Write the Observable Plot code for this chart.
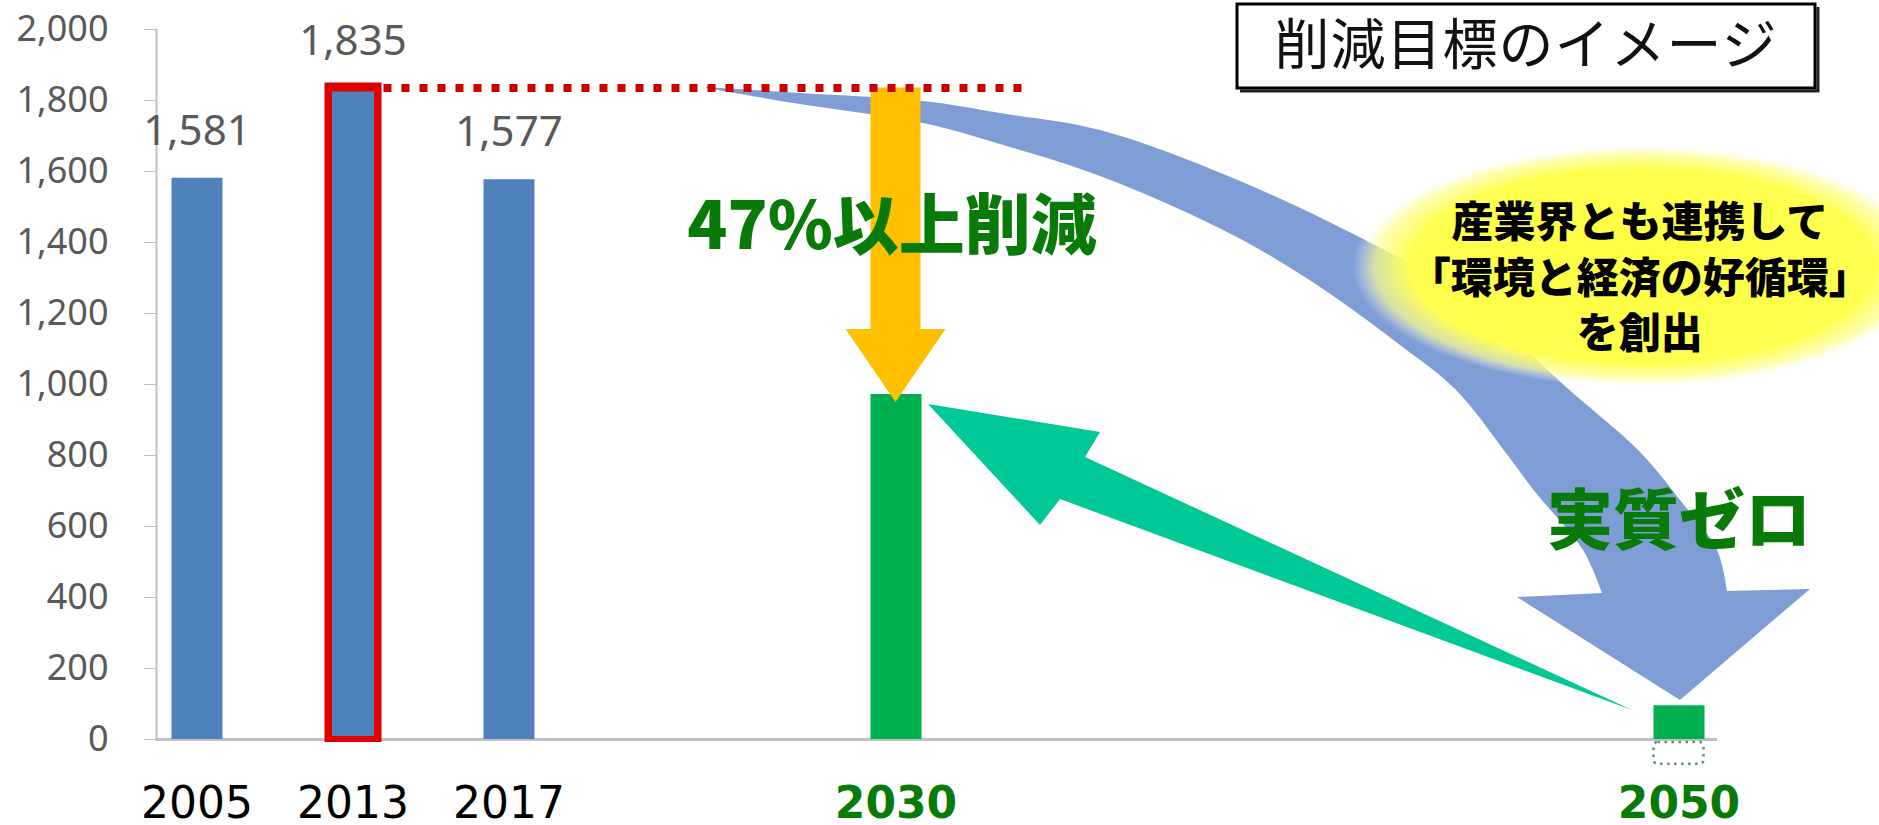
<!DOCTYPE html>
<html>
<head>
<meta charset="utf-8">
<script src="https://cdn.jsdelivr.net/npm/d3@7"></script>
<script src="https://cdn.jsdelivr.net/npm/@observablehq/plot@0.6"></script>
<style>
  html, body { margin: 0; padding: 0; background: #fff; }
  #chart svg { display: block; }
</style>
</head>
<body>
<div id="chart"></div>
<script>
// ---- data ----
const years = [2005, 2013, 2017, 2030, 2050];
const yearLabels = ["2005", "2013", "2017", "2030", "2050"];
const emissions = [1581, 1835, 1577, 972, 95];
const offset2050 = -70;
const baseYear = 2013;
const yTicks = [0, 200, 400, 600, 800, 1000, 1200, 1400, 1600, 1800, 2000];
const titleText = "削減目標のイメージ";
const reductionText = "47%以上削減";
const netZeroText = "実質ゼロ";
const bubbleLines = ["産業界とも連携して", "「環境と経済の好循環」", "を創出"];

const rows = years.map((y, i) => ({year: y, label: yearLabels[i], value: emissions[i]}));
const past = rows.slice(0, 3);
const pastPlain = past.filter(d => d.year !== baseYear);
const pastBase = past.filter(d => d.year === baseYear);
const targets = rows.slice(3);
const baseValue = pastBase[0].value;

const GREEN_TEXT = "#087a08";
const CJK = "'Noto Sans CJK JP', 'Noto Sans', sans-serif";

// background annotation: big blue curved arrow + yellow glow
function backShapes(index, scales) {
  const g = d3.create("svg:g");
  const outer = [[706,87],[800,93],[923,101],[1000,113],[1100,130],[1233,178],[1367,241],[1470,300],[1566,387],[1640,452],[1680,500],[1717,550],[1727,591]];
  const inner = [[1602,593],[1583,550],[1536,493],[1506,453],[1456,390],[1400,345],[1320,287],[1233,235],[1100,176],[1000,144],[923,123],[800,104],[706,88]];
  const line = d3.line().curve(d3.curveCatmullRom.alpha(0.5));
  const d = line(outer) + "L1810,589L1680,700L1517,597L1602,593" + line(inner).replace(/^M/, "L") + "Z";
  g.append("path").attr("d", d).attr("fill", "#7f9dd5");

  const defs = g.append("defs");
  const rg = defs.append("radialGradient").attr("id", "glow");
  rg.append("stop").attr("offset", "0%").attr("stop-color", "#ffff40").attr("stop-opacity", 1);
  rg.append("stop").attr("offset", "80%").attr("stop-color", "#ffff50").attr("stop-opacity", 1);
  rg.append("stop").attr("offset", "92%").attr("stop-color", "#ffff90").attr("stop-opacity", 0.7);
  rg.append("stop").attr("offset", "100%").attr("stop-color", "#ffffff").attr("stop-opacity", 0);
  g.append("ellipse").attr("cx", 1642).attr("cy", 266).attr("rx", 290).attr("ry", 122).attr("fill", "url(#glow)");
  return g.node();
}

// foreground annotation: yellow arrow, green arrow, dotted box, title box
function frontShapes(index, scales) {
  const {x, y} = scales;
  const g = d3.create("svg:g");
  // yellow reduction arrow at 2030
  const cx = x(2030), top = y(baseValue), tip = y(emissions[3]) + 8, headY = tip - 73;
  g.append("path")
    .attr("d", `M${cx-25},${top}L${cx+25},${top}L${cx+25},${headY}L${cx+50},${headY}L${cx},${tip}L${cx-50},${headY}L${cx-25},${headY}Z`)
    .attr("fill", "#ffc000");
  // green return arrow from 2050 to 2030
  g.append("path")
    .attr("d", "M928,404L1100,432L1085,457L1632,710L1060,499L1040,525Z")
    .attr("fill", "#00c896");
  // dotted box below 2050 bar
  const bx = x(2050);
  g.append("rect")
    .attr("x", bx - 25).attr("y", y(0) + 3)
    .attr("width", 50).attr("height", y(offset2050) - y(0) - 3)
    .attr("rx", 4)
    .attr("fill", "none").attr("stroke", "#5c8f78").attr("stroke-width", 2.5)
    .attr("stroke-dasharray", "2.5,4.5");
  // title box
  g.append("path").attr("d", "M1240,91L1818,91L1818,7").attr("fill", "none").attr("stroke", "#222").attr("stroke-width", 3);
  g.append("rect").attr("x", 1237).attr("y", 4).attr("width", 578).attr("height", 84)
    .attr("fill", "#fff").attr("stroke", "#000").attr("stroke-width", 3);
  g.append("text").attr("x", 1526).attr("y", 40)
    .attr("text-anchor", "middle").attr("dominant-baseline", "central")
    .attr("font-family", CJK).attr("font-size", 55).attr("fill", "#111")
    .attr("letter-spacing", 1)
    .text(titleText);
  return g.node();
}

const chart = Plot.plot({
  width: 1879,
  height: 825,
  marginTop: 29,
  marginBottom: 86,
  marginLeft: 156,
  marginRight: 162,
  x: {type: "linear", domain: years, range: [196.5, 352.5, 508.5, 895.5, 1678.5], axis: null},
  y: {domain: [0, 2000], label: null},
  style: {fontFamily: "'Noto Sans', sans-serif", background: "#fff", overflow: "visible"},
  marks: [
    Plot.frame({anchor: "left", stroke: "#c0c0c0", strokeWidth: 2}),
    Plot.axisY({ticks: yTicks, tickSize: 12, tickPadding: 36, tickFormat: d3.format(","),
      label: null, fontSize: 36, stroke: "#c0c0c0", fill: "#595959"}),
    Plot.ruleY([0], {stroke: "#c0c0c0", strokeWidth: 3}),
    backShapes,
    // bars
    Plot.ruleX(pastPlain, {x: "year", y1: "value", y2: 0, stroke: "#4f81bd", strokeWidth: 51}),
    Plot.ruleX(pastBase, {x: "year", y1: "value", y2: 0, stroke: "#e00000", strokeWidth: 57, insetTop: -5, insetBottom: -3}),
    Plot.ruleX(pastBase, {x: "year", y1: "value", y2: 0, stroke: "#4f81bd", strokeWidth: 42, insetTop: 4, insetBottom: 3}),
    Plot.ruleX(targets, {x: "year", y1: "value", y2: 0, stroke: "#00b050", strokeWidth: 51}),
    frontShapes,
    // dotted reference line at the 2013 level
    Plot.ruleY([baseValue], {x1: baseYear, x2: 2033.3, stroke: "#cc0000", strokeWidth: 8,
      strokeDasharray: "8,10", insetLeft: 31}),
    // value labels
    Plot.text(past, {x: "year", y: "value", text: d => d3.format(",")(d.value), dy: -47,
      fontSize: 42, fill: "#595959"}),
    // year labels
    Plot.text(past, {x: "year", text: "label", frameAnchor: "bottom", dy: 78,
      fontSize: 44, fill: "#000", fontFamily: "'DejaVu Sans', sans-serif"}),
    Plot.text(targets, {x: "year", text: "label", frameAnchor: "bottom", dy: 78,
      fontSize: 44, fontWeight: "bold", fill: GREEN_TEXT, fontFamily: "'DejaVu Sans', sans-serif"}),
    // annotation texts
    Plot.text([reductionText], {x: 2030, y: 1440, text: d => d, dx: -4, fontSize: 66,
      fontWeight: 900, fill: GREEN_TEXT, fontFamily: CJK}),
    Plot.text([netZeroText], {x: 2050, y: 611, text: d => d, fontSize: 66,
      fontWeight: 900, fill: GREEN_TEXT, fontFamily: CJK}),
    Plot.text([bubbleLines.join("\n")], {x: 2049, y: 1308, text: d => d, fontSize: 42,
      lineHeight: 1.32, fontWeight: 900, fill: "#000", fontFamily: CJK})
  ]
});

document.getElementById("chart").appendChild(chart);
</script>
</body>
</html>
